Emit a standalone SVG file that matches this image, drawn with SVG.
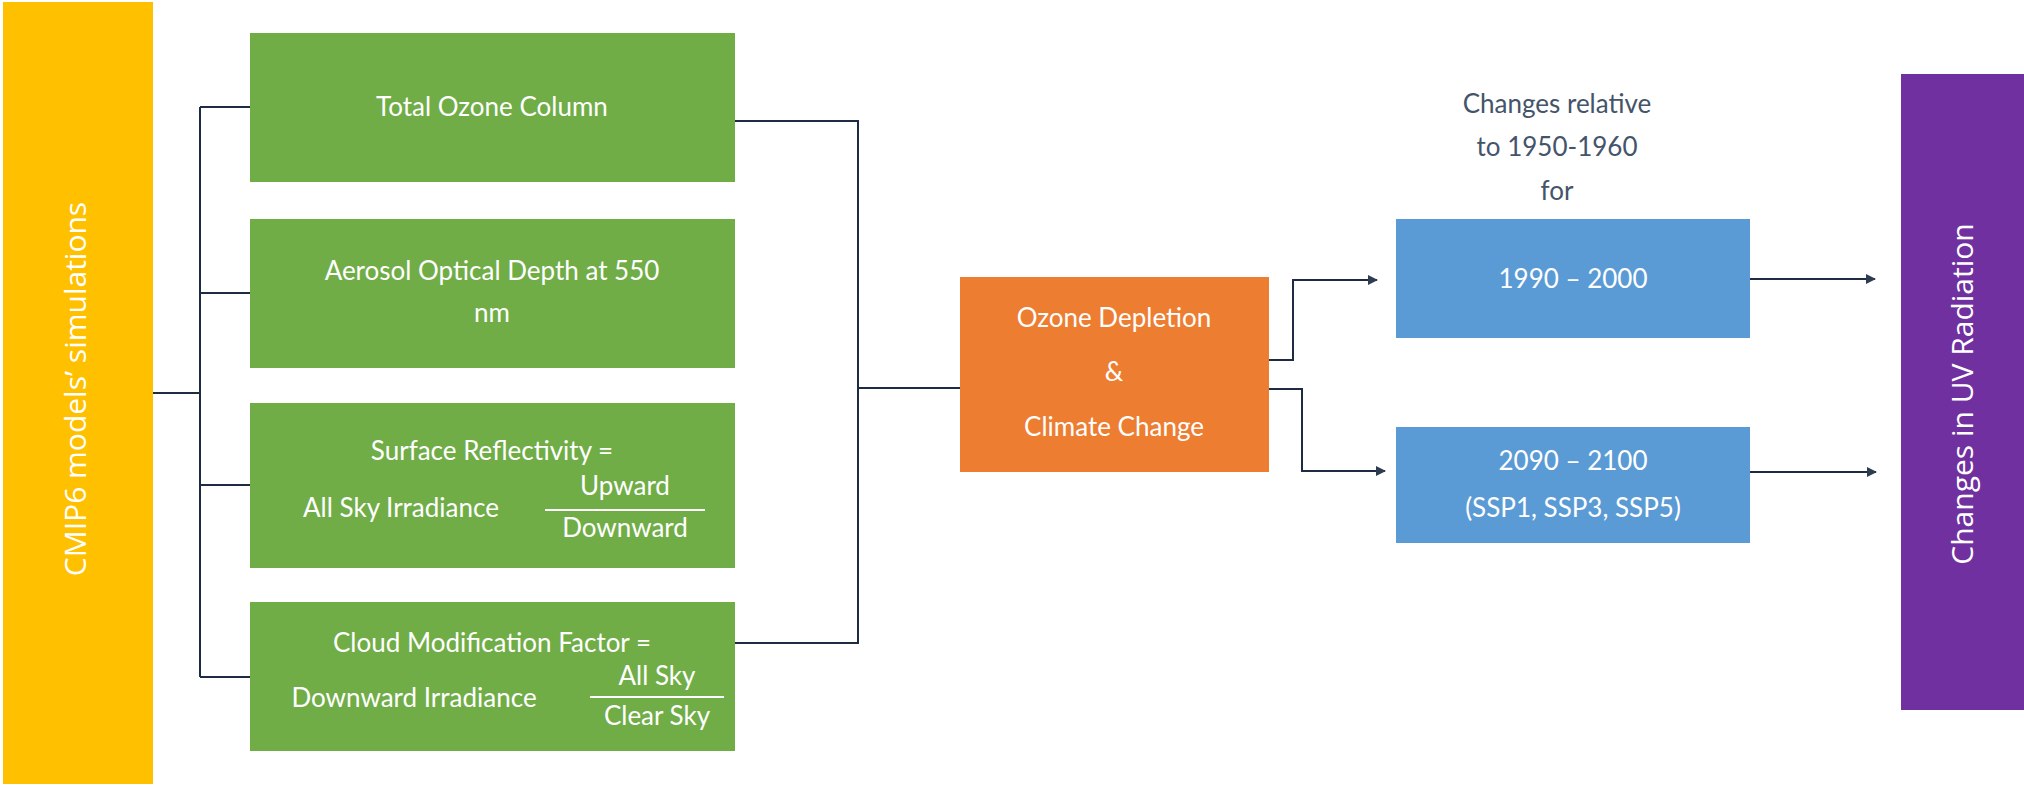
<svg xmlns="http://www.w3.org/2000/svg" width="2024" height="786" viewBox="0 0 2024 786">
<style>
.t{font-family:Lato,"Liberation Sans",sans-serif;font-size:26px;fill:#fff;text-anchor:middle}
.c{fill:none;stroke:#1F2A44;stroke-width:2}
.v{font-family:"Open Sans","Liberation Sans",sans-serif;font-size:30px;fill:#fff;text-anchor:middle}
</style>
<defs><marker id="a" markerWidth="10" markerHeight="10" refX="9" refY="5" orient="auto" markerUnits="userSpaceOnUse"><path d="M0,0 L10,5 L0,10 Z" fill="#2F3B50"/></marker></defs>
<rect width="2024" height="786" fill="#fff"/>
<g id="cmip6"><rect x="3" y="2" width="150" height="782" fill="#FFC000"/><text class="v" transform="translate(86,389) rotate(-90)">CMIP6 models’ simulations</text></g>
<g id="toc"><rect x="250" y="33" width="485" height="149" fill="#70AD47"/><text class="t" x="492" y="116">Total Ozone Column</text></g>
<g id="aod"><rect x="250" y="219" width="485" height="149" fill="#70AD47"/><text class="t" x="492" y="280">Aerosol Optical Depth at 550</text><text class="t" x="492" y="322">nm</text></g>
<g id="sr"><rect x="250" y="403" width="485" height="165" fill="#70AD47"/><text class="t" x="492" y="460">Surface Reflectivity =</text><text class="t" x="401" y="517">All Sky Irradiance</text><text class="t" x="625" y="495">Upward</text><line x1="545" y1="510" x2="705" y2="510" stroke="#fff" stroke-width="2"/><text class="t" x="625" y="537">Downward</text></g>
<g id="cmf"><rect x="250" y="602" width="485" height="149" fill="#70AD47"/><text class="t" x="492" y="652">Cloud Modification Factor =</text><text class="t" x="414" y="707">Downward Irradiance</text><text class="t" x="657" y="685">All Sky</text><line x1="590" y1="697" x2="724" y2="697" stroke="#fff" stroke-width="2"/><text class="t" x="657" y="725">Clear Sky</text></g>
<g id="ozone"><rect x="960" y="277" width="309" height="195" fill="#ED7D31"/><text class="t" x="1114" y="327">Ozone Depletion</text><text class="t" x="1114" y="381">&amp;</text><text class="t" x="1114" y="436">Climate Change</text></g>
<g id="label"><text class="t" style="fill:#44546A" x="1557" y="113">Changes relative</text><text class="t" style="fill:#44546A" x="1557" y="156">to 1950-1960</text><text class="t" style="fill:#44546A" x="1557" y="200">for</text></g>
<g id="p1"><rect x="1396" y="219" width="354" height="119" fill="#5B9BD5"/><text class="t" x="1573" y="288">1990  – 2000</text></g>
<g id="p2"><rect x="1396" y="427" width="354" height="116" fill="#5B9BD5"/><text class="t" x="1573" y="470">2090  – 2100</text><text class="t" x="1573" y="517">(SSP1, SSP3, SSP5)</text></g>
<g id="uv"><rect x="1901" y="74" width="123" height="636" fill="#7030A0"/><text class="v" transform="translate(1973,394) rotate(-90)">Changes in UV Radiation</text></g>
<g id="connectors">
<path class="c" d="M153,393 H200 M200,107 V677 M200,107 H250 M200,293 H250 M200,485 H250 M200,677 H250"/>
<path class="c" d="M735,121 H858 V643 H735 M858,388 H960"/>
<path class="c" d="M1269,360 H1293 V280 H1377" marker-end="url(#a)"/>
<path class="c" d="M1269,389 H1302 V471 H1385" marker-end="url(#a)"/>
<path class="c" d="M1750,279 H1875" marker-end="url(#a)"/>
<path class="c" d="M1750,472 H1876" marker-end="url(#a)"/>
</g>
</svg>
